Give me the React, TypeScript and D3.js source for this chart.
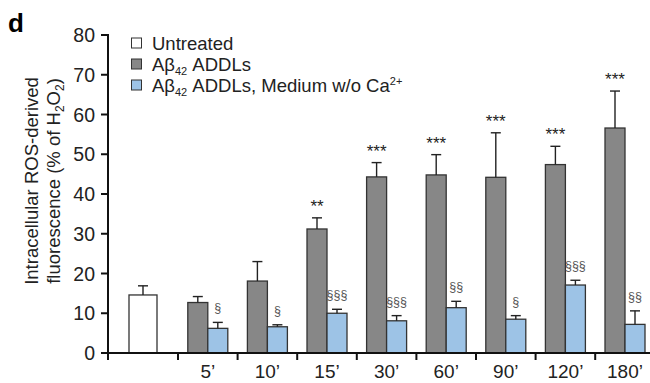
import React from 'react';
import * as d3 from 'd3';

// data
const times = ["5’", "10’", "15’", "30’", "60’", "90’", "120’", "180’"];
const addlMean = [12.7, 18.1, 31.2, 44.3, 44.8, 44.2, 47.4, 56.6];
const addlErr = [1.5, 4.9, 2.8, 3.6, 5.1, 11.2, 4.6, 9.3];
const noCaMean = [6.2, 6.6, 10.0, 8.1, 11.4, 8.5, 17.1, 7.2];
const noCaErr = [1.5, 0.5, 1.0, 1.3, 1.6, 0.9, 1.2, 3.4];
const untreatedMean = 14.6;
const untreatedErr = 2.3;
const addlMarks = ["", "", "**", "***", "***", "***", "***", "***"];
const noCaMarks = ["§", "§", "§§§", "§§§", "§§", "§", "§§§", "§§"];
const yTicks = [0, 10, 20, 30, 40, 50, 60, 70, 80];

const W = 650;
const H = 383;
const font = "'Liberation Sans', Arial, sans-serif";
const grey = '#878787';
const blue = '#9dc3e6';

export default function App() {
  const x0 = 108;
  const yScale = d3.scaleLinear().domain([0, 80]).range([353, 35]);

  // first band (untreated) is wider than the time groups
  const xUntreated = d3.scaleBand().domain(['u']).range([x0, 178]).paddingInner(0).paddingOuter(0.75);
  const xGroup = d3.scaleBand().domain(times).range([178, 178 + 8 * 59.6]);
  const xInner = d3.scaleBand().domain(['addl', 'noca']).range([0, 40]);
  const groupLeft = (t: string) => xGroup(t)! + xGroup.bandwidth() / 2 - 20;

  const boundaries = [x0, ...times.map(t => xGroup(t)!)];

  const errBar = (cx: number, top: number, val: number, key: string) => (
    <g key={key} stroke="#222" strokeWidth={1.4}>
      <line x1={cx} x2={cx} y1={yScale(top)} y2={yScale(top + val)} />
      <line x1={cx - 5} x2={cx + 5} y1={yScale(top + val)} y2={yScale(top + val)} />
    </g>
  );

  const legend = [
    { fill: '#ffffff', label: <>Untreated</> },
    { fill: grey, label: <>Aβ<tspan fontSize={11} dy={4}>42</tspan><tspan dy={-4}> ADDLs</tspan></> },
    {
      fill: blue,
      label: <>Aβ<tspan fontSize={11} dy={4}>42</tspan><tspan dy={-4}> ADDLs, Medium w/o Ca</tspan><tspan fontSize={11} dy={-7}>2+</tspan></>,
    },
  ];

  const ux = xUntreated('u')!;
  const uw = xUntreated.bandwidth();

  return (
    <svg width={W} height={H} style={{ position: 'absolute', left: 0, top: 0, background: '#fff' }} fontFamily={font}>
      <text x={8} y={32} fontSize={26} fontWeight="bold">d</text>

      {/* y axis title */}
      <g transform="translate(38,181) rotate(-90)" fontSize={18.5} textAnchor="middle" fill="#222">
        <text x={0} y={0}>Intracellular ROS-derived</text>
        <text x={0} y={22}>fluorescence (% of H<tspan fontSize={12} dy={4}>2</tspan><tspan dy={-4}>O</tspan><tspan fontSize={12} dy={4}>2</tspan><tspan dy={-4}>)</tspan></text>
      </g>

      {/* bars */}
      <rect x={ux} y={yScale(untreatedMean)} width={uw} height={yScale(0) - yScale(untreatedMean)} fill="#fff" stroke="#333" strokeWidth={1.3} />
      {errBar(ux + uw / 2, untreatedMean, untreatedErr, 'ue')}

      {times.map((t, i) => {
        const gx = groupLeft(t);
        const ax = gx + xInner('addl')!;
        const bx = gx + xInner('noca')!;
        const bw = xInner.bandwidth();
        return (
          <g key={t}>
            <rect x={ax} y={yScale(addlMean[i])} width={bw} height={yScale(0) - yScale(addlMean[i])} fill={grey} stroke="#333" strokeWidth={1.3} />
            <rect x={bx} y={yScale(noCaMean[i])} width={bw} height={yScale(0) - yScale(noCaMean[i])} fill={blue} stroke="#333" strokeWidth={1.3} />
            {errBar(ax + bw / 2, addlMean[i], addlErr[i], 'a' + t)}
            {errBar(bx + bw / 2, noCaMean[i], noCaErr[i], 'b' + t)}
            <text x={ax + bw / 2} y={yScale(addlMean[i] + addlErr[i]) - 6} fontSize={17} textAnchor="middle" fill="#222">{addlMarks[i]}</text>
            <text x={bx + bw / 2} y={yScale(noCaMean[i] + noCaErr[i]) - 10} fontSize={12.5} textAnchor="middle" fill="#555">{noCaMarks[i]}</text>
          </g>
        );
      })}

      {/* y axis */}
      <line x1={x0} x2={x0} y1={yScale(80) - 1} y2={yScale(0) + 1} stroke="#111" strokeWidth={2} />
      {yTicks.map(v => (
        <g key={v}>
          <line x1={x0 - 7} x2={x0} y1={yScale(v)} y2={yScale(v)} stroke="#111" strokeWidth={2} />
          <text x={x0 - 13} y={yScale(v) + 7} fontSize={19.5} textAnchor="end" fill="#222">{v}</text>
        </g>
      ))}

      {/* x axis */}
      <line x1={x0 - 1} x2={W} y1={yScale(0)} y2={yScale(0)} stroke="#111" strokeWidth={2} />
      {boundaries.map((b, i) => (
        <line key={i} x1={b} x2={b} y1={yScale(0)} y2={yScale(0) + 7} stroke="#111" strokeWidth={2} />
      ))}
      {times.map(t => (
        <text key={t} x={xGroup(t)! + xGroup.bandwidth() / 2} y={378} fontSize={19} textAnchor="middle" fill="#222">{t}</text>
      ))}

      {/* legend */}
      {legend.map((l, i) => (
        <g key={i} transform={`translate(131,${43 + i * 21})`}>
          <rect x={0.5} y={-5} width={10} height={10} fill={l.fill} stroke="#333" strokeWidth={1} />
          <text x={21} y={6.5} fontSize={18.5} fill="#222">{l.label}</text>
        </g>
      ))}
    </svg>
  );
}
